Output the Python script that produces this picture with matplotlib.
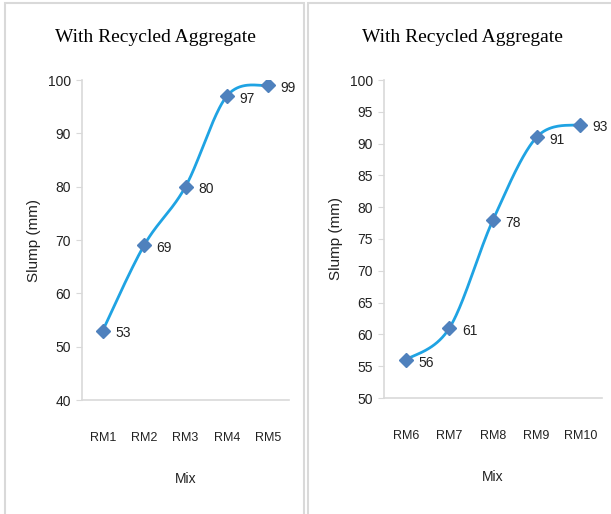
import numpy as np
import matplotlib
matplotlib.use("Agg")
import matplotlib.pyplot as plt
from matplotlib.patches import Rectangle

# slump values for the two mix groups
mixes_a = ["RM1", "RM2", "RM3", "RM4", "RM5"]
slump_a = [53, 69, 80, 97, 99]
mixes_b = ["RM6", "RM7", "RM8", "RM9", "RM10"]
slump_b = [56, 61, 78, 91, 93]

title = "With Recycled Aggregate"
line_col = "#1fa3e3"
mark_col = "#4f81bd"
grey = "#d9d9d9"
txt = "#222222"
sans = ["Liberation Sans", "DejaVu Sans"]
serif = ["Liberation Serif", "DejaVu Serif"]


def smooth(x, y, n=40):
    # bezier smoothing of the kind spreadsheet "smoothed line" charts use
    x = np.asarray(x, float)
    y = np.asarray(y, float)
    px, py = [], []
    t = np.linspace(0, 1, n)
    for i in range(len(x) - 1):
        x0, y0 = (x[i - 1], y[i - 1]) if i > 0 else (x[i], y[i])
        x3, y3 = (x[i + 2], y[i + 2]) if i + 2 < len(x) else (x[i + 1], y[i + 1])
        c1x = x[i] + (x[i + 1] - x0) / 6
        c1y = y[i] + (y[i + 1] - y0) / 6
        c2x = x[i + 1] - (x3 - x[i]) / 6
        c2y = y[i + 1] - (y3 - y[i]) / 6
        bx = (1 - t) ** 3 * x[i] + 3 * (1 - t) ** 2 * t * c1x + 3 * (1 - t) * t ** 2 * c2x + t ** 3 * x[i + 1]
        by = (1 - t) ** 3 * y[i] + 3 * (1 - t) ** 2 * t * c1y + 3 * (1 - t) * t ** 2 * c2y + t ** 3 * y[i + 1]
        px.extend(bx)
        py.extend(by)
    return px, py


def panel(ax, mixes, vals, ylim, step):
    xs = np.arange(len(mixes))
    sx, sy = smooth(xs, vals)
    ax.plot(sx, sy, color=line_col, lw=2, zorder=2)
    ax.plot(xs, vals, ls="none", marker="D", ms=7, color=mark_col, zorder=3)
    for x, v in zip(xs, vals):
        ax.annotate(str(v), (x, v), xytext=(9, -2), textcoords="offset points",
                    va="center", ha="left", fontsize=10, family=sans, color=txt)
    ax.set_xlim(-0.5, len(mixes) - 0.5)
    ax.set_ylim(*ylim)
    ax.set_yticks(np.arange(ylim[0], ylim[1] + 1, step))
    ax.set_xticks(xs)
    ax.set_xticklabels(mixes)
    for s in ["top", "right"]:
        ax.spines[s].set_visible(False)
    for s in ["left", "bottom"]:
        ax.spines[s].set_color(grey)
        ax.spines[s].set_linewidth(1.2)
    ax.tick_params(axis="y", length=4, color=grey, labelsize=10, pad=4)
    ax.tick_params(axis="x", length=0, labelsize=9, pad=23)
    for lab in ax.get_yticklabels() + ax.get_xticklabels():
        lab.set_family(sans)
        lab.set_color(txt)
    ax.set_xlabel("Mix", family=sans, fontsize=10, labelpad=20, color=txt)
    ax.set_ylabel("Slump (mm)", family=sans, fontsize=11, labelpad=5, color=txt)


fig = plt.figure(figsize=(6.11, 5.14), dpi=100)

# panel frames
fig.add_artist(Rectangle((5 / 611, -0.01), 299 / 611, 1.01 - 3 / 514, transform=fig.transFigure,
                         fill=False, ec=grey, lw=1.5))
fig.add_artist(Rectangle((308 / 611, -0.01), 0.5, 1.01 - 3 / 514, transform=fig.transFigure,
                         fill=False, ec=grey, lw=1.5))

ax1 = fig.add_axes([82 / 611, 114 / 514, 207 / 611, 320 / 514])
panel(ax1, mixes_a, slump_a, (40, 100), 10)
ax2 = fig.add_axes([384 / 611, 116 / 514, 218 / 611, 318 / 514])
panel(ax2, mixes_b, slump_b, (50, 100), 5)

fig.text(155 / 611, 1 - 38 / 514, title, ha="center", va="center", family=serif, fontsize=14)
fig.text(462 / 611, 1 - 38 / 514, title, ha="center", va="center", family=serif, fontsize=14)

fig.savefig("out.png", dpi=100)
